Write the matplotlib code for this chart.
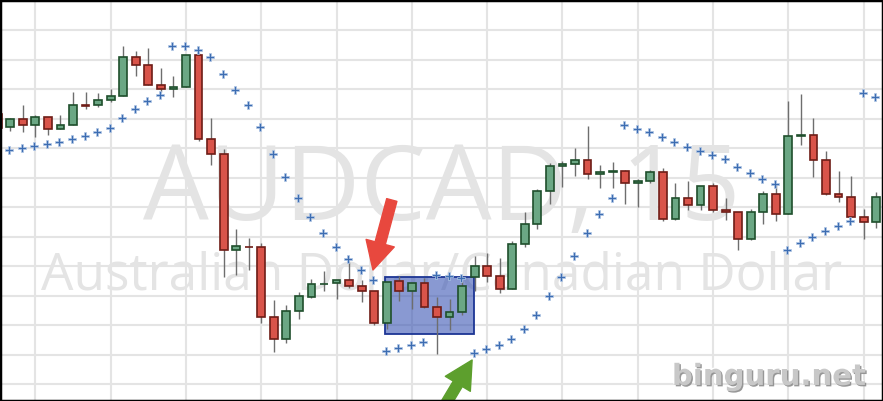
import numpy as np
import matplotlib
matplotlib.use("Agg")
import matplotlib.pyplot as plt
import matplotlib.patheffects as pe
from matplotlib.patches import Rectangle

# AUDCAD 15m candles (chart units), first candle is the cut-off one at the left edge
opens = [287.0, 273.7, 282.0, 275.7, 283.7, 271.7, 275.7, 295.7, 295.7, 300.7, 304.7,
         343.7, 335.7, 315.7, 311.7, 313.7, 345.7, 261.7, 246.7, 150.7, 154.3,
         153.7, 83.7, 61.7, 89.7, 104.3, 116.7, 117.7, 120.7, 114.7, 109.7,
         77.7, 119.7, 109.7, 117.7, 93.7, 83.7, 88.7, 123.7, 134.7, 124.7,
         111.7, 156.7, 176.7, 209.7, 234.7, 236.7, 240.7, 226.7, 228.7, 229.7,
         217.7, 219.7, 228.7, 181.7, 202.7, 195.7, 214.7, 190.7, 188.7, 161.7,
         188.7, 206.7, 186.7, 264.7, 265.7, 240.7, 206.7, 203.7, 183.7, 178.7]
highs = [289.0, 283.3, 296.0, 285.7, 283.7, 286.0, 309.0, 309.0, 308.0, 312.0, 355.0,
         350.0, 353.0, 333.0, 325.0, 345.7, 347.7, 283.0, 252.0, 172.0, 163.0,
         157.7, 101.0, 95.7, 109.0, 122.0, 129.7, 120.7, 138.7, 120.7, 109.7,
         119.5, 124.7, 117.7, 122.7, 103.7, 101.7, 119.7, 144.7, 147.7, 142.7,
         159.7, 188.7, 211.7, 237.7, 239.7, 252.7, 274.7, 235.7, 238.7, 230.7,
         221.7, 230.7, 232.7, 217.7, 219.7, 214.7, 217.7, 202.7, 188.7, 191.7,
         209.7, 216.7, 299.7, 306.7, 282.7, 249.7, 229.7, 224.7, 191.7, 208.7]
lows = [271.0, 270.3, 269.3, 264.3, 266.3, 271.7, 275.7, 291.7, 294.3, 299.3, 304.7,
        325.0, 315.7, 309.0, 304.3, 313.7, 260.3, 236.3, 124.3, 126.3, 131.3,
        78.3, 49.3, 58.3, 82.3, 102.7, 110.3, 102.3, 112.7, 99.3, 75.7,
        72.5, 100.3, 92.3, 92.7, 47.3, 70.7, 85.7, 109.7, 118.7, 107.7,
        111.7, 153.7, 171.7, 196.7, 213.7, 224.7, 222.5, 212.7, 212.7, 196.7,
        193.7, 217.7, 179.7, 180.7, 190.7, 190.7, 188.7, 180.7, 150.7, 160.7,
        176.7, 179.7, 186.7, 255.7, 223.7, 205.7, 198.7, 183.7, 161.7, 173.3]
closes = [273.0, 281.7, 275.7, 283.7, 271.7, 275.7, 295.7, 295.3, 301.0, 304.7, 343.7,
          335.7, 315.7, 311.7, 313.7, 345.7, 261.7, 246.7, 150.7, 154.7, 153.7,
          83.7, 61.7, 89.7, 104.7, 116.7, 117.3, 120.7, 114.7, 109.7, 77.7,
          119.5, 109.7, 117.7, 93.7, 83.7, 88.7, 114.7, 134.7, 124.7, 111.7,
          156.7, 176.7, 209.7, 234.7, 236.7, 240.7, 226.7, 228.7, 229.7, 217.7,
          219.7, 228.7, 181.7, 202.7, 195.7, 214.7, 190.7, 188.7, 161.7, 188.7,
          206.7, 186.7, 264.7, 265.7, 240.7, 206.7, 203.7, 183.7, 178.7, 203.7]
# colour of the candle (doji candles keep the colour they are drawn in)
bullish = [False, True, False, True, False, True, True, False, True, True, True,
           False, False, False, True, True, False, False, False, True, False,
           False, False, True, True, True, True, True, False, False, False,
           True, False, True, False, False, True, True, True, False, False,
           True, True, True, True, True, True, False, True, True, False,
           True, True, False, True, False, True, False, False, False, True,
           True, False, True, True, False, False, False, False, False, True]

# Parabolic SAR, one dot per candle (from candle 0)
sar = [250.7, 252.7, 254.7, 256.7, 258.7, 261.7, 264.7, 268.7, 272.7, 282.7,
       291.7, 299.7, 305.7, 355.5, 354.7, 350.7, 343.7, 326.7, 310.7, 295.7,
       273.7, 246.7, 223.7, 202.7, 183.7, 167.7, 153.7, 141.7, 130.7, 120.7,
       49.7, 52.7, 55.7, 58.7, 125.7, 124.7, 122.7, 47.7, 51.7, 55.7,
       61.7, 71.7, 85.7, 104.7, 123.7, 144.7, 167.7, 186.7, 202.7, 275.7,
       271.7, 268.7, 263.7, 258.7, 253.7, 249.7, 245.7, 241.7, 233.7, 227.7,
       221.7, 216.7, 150.7, 157.7, 163.7, 169.7, 174.7, 179.7, 307.7, 304.5]

symbol = "AUDCAD, 15"
pair_name = "Australian Dollar/Canadian Dollar"
site = "binguru.net"

candle_x = np.arange(-1, len(opens) - 1)
sar_x = np.arange(len(sar))

fig = plt.figure(figsize=(8.83, 4.01), dpi=100)
ax = fig.add_axes([0, 0, 1, 1])
ax.set_xlim(-0.82, 69.54)
ax.set_ylim(0, 401)

# grid only, no labels
ax.set_xticks(np.arange(2, 70, 6))
ax.set_yticks(np.arange(17, 400, 29.5))
ax.tick_params(length=0, labelbottom=False, labelleft=False)
ax.grid(True, color="#e4e4e4", linewidth=1.5, zorder=0)
ax.set_axisbelow(True)
for s in ax.spines.values():
    s.set_visible(False)

# watermark
ax.text(0.5, 0.451, symbol, transform=ax.transAxes, ha="center", va="baseline",
        fontsize=75, family="Open Sans", color="#e4e4e4", zorder=1)
ax.text(0.5, 0.277, pair_name, transform=ax.transAxes, ha="center", va="baseline",
        fontsize=37, family="Open Sans", color="#e4e4e4", zorder=1)

# highlighted zone
ax.add_patch(Rectangle((29.88, 66.7), 7.04, 57.0, facecolor="#3a56b4", alpha=0.6,
                       edgecolor="none", zorder=2))
ax.add_patch(Rectangle((29.88, 66.7), 7.04, 57.0, facecolor="none",
                       edgecolor="#1c3594", linewidth=1.3, zorder=2))

# candles
w = 0.62
for x, o, h, l, c, up in zip(candle_x, opens, highs, lows, closes, bullish):
    ax.plot([x, x], [l, h], color="#6e6e6e", linewidth=1.0, zorder=3,
            solid_capstyle="butt")
    fc, ec = ("#6ba784", "#1f4f2c") if up else ("#d9544a", "#6e1d17")
    bottom = min(o, c)
    height = max(abs(c - o), 0.8)
    ax.add_patch(Rectangle((x - w / 2, bottom), w, height, facecolor=fc,
                           edgecolor=ec, linewidth=1.2, zorder=4))

# SAR dots
ax.plot(sar_x - 0.08, sar, linestyle="none", marker="P", markersize=5.3,
        markerfacecolor="#3d6db2", markeredgecolor="#b3c8e6", markeredgewidth=0.5,
        zorder=5)

# arrows
arrow_style = "simple,head_length=1.0,head_width=1.05,tail_width=0.38"
ax.annotate("", xy=(28.9, 131), xytext=(30.4, 201),
            arrowprops=dict(arrowstyle=arrow_style, mutation_scale=20,
                            color="#e8483e", shrinkA=0, shrinkB=0, capstyle="round",
                            joinstyle="round"),
            zorder=6)
ax.annotate("", xy=(36.8, 41), xytext=(33.5, -28), annotation_clip=False,
            arrowprops=dict(arrowstyle=arrow_style, mutation_scale=20,
                            color="#5d9f2d", shrinkA=0, shrinkB=0),
            zorder=6)

# site stamp
ax.text(0.761, 0.04, site, transform=ax.transAxes, ha="left", va="baseline",
        fontsize=21, fontweight="bold", family="DejaVu Sans", color="#c8c8c8",
        zorder=7,
        path_effects=[pe.SimplePatchShadow(offset=(-0.8, 0.8), shadow_rgbFace="white", alpha=1),
                      pe.SimplePatchShadow(offset=(1.0, -1.0), shadow_rgbFace="#8c8c8c", alpha=0.9),
                      pe.Normal()])

# black frame
fig.patches.append(Rectangle((0, 0), 1, 1, transform=fig.transFigure, fill=False,
                             edgecolor="black", linewidth=2.5))

fig.savefig("out.png", dpi=100)
